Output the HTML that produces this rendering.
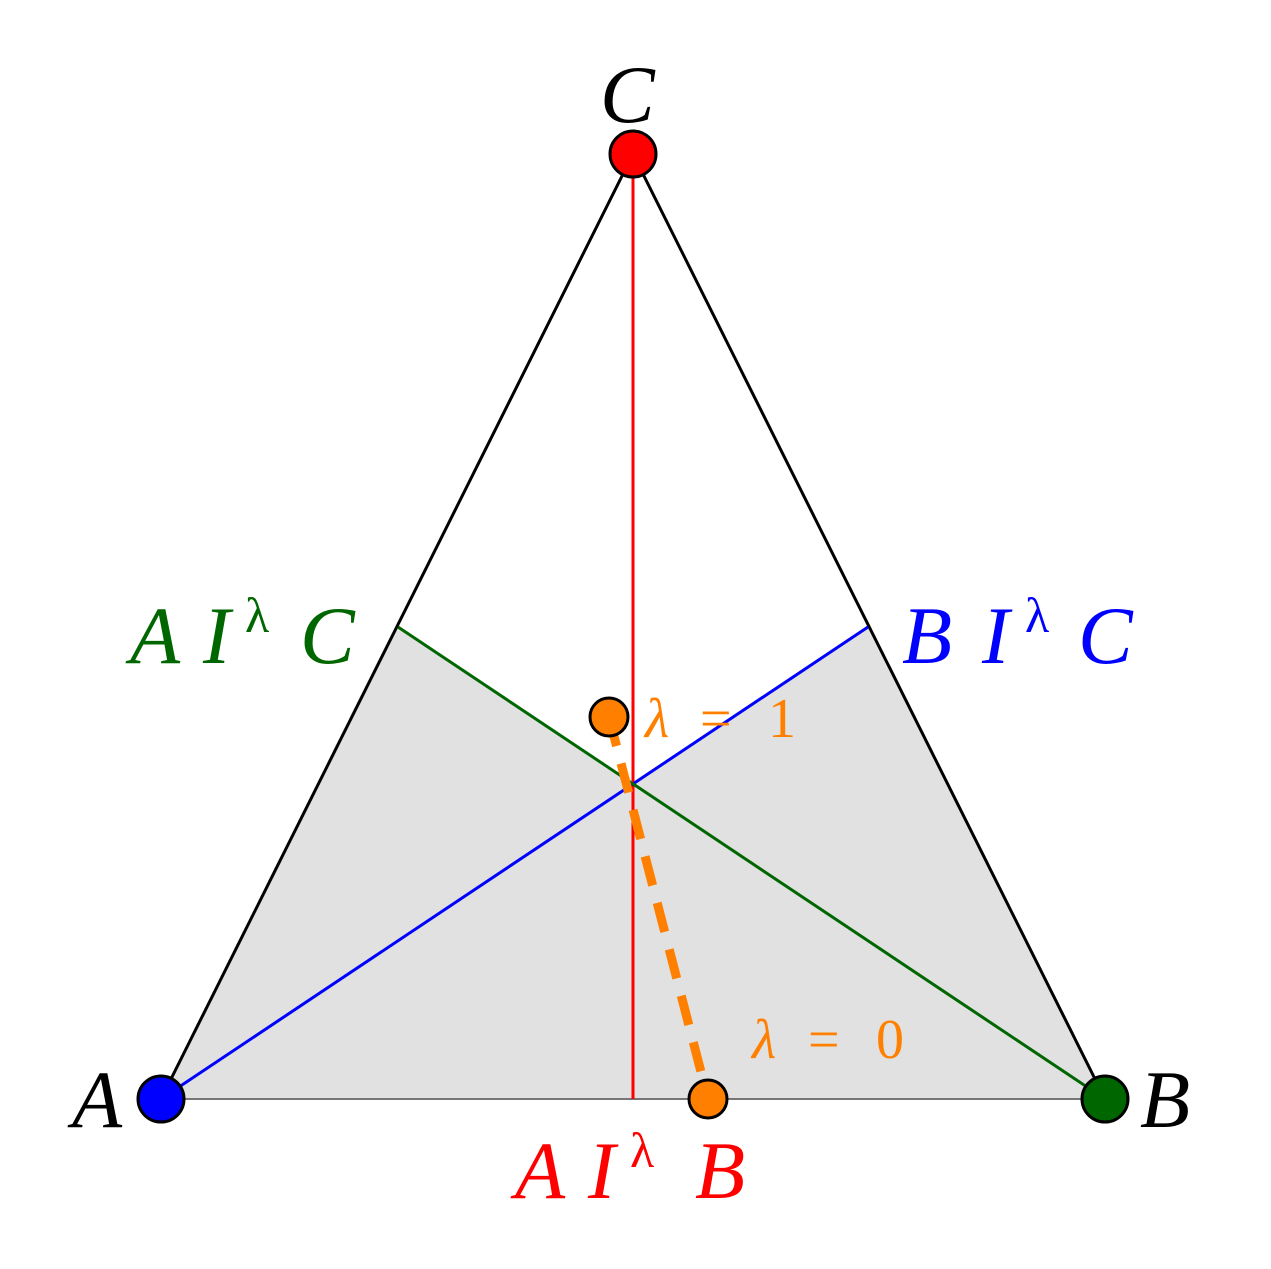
<!DOCTYPE html>
<html><head><meta charset="utf-8"><style>body{margin:0;background:#fff}svg{display:block}</style></head>
<body>
<svg width="1271" height="1269" viewBox="0 0 1271 1269" xmlns="http://www.w3.org/2000/svg">
<polygon points="161,1099 398,627 630,784 868,627 1105,1099" fill="#e1e1e1"/>
<line x1="161" y1="1099" x2="1105" y2="1099" stroke="#777" stroke-width="2"/>
<line x1="161" y1="1099" x2="633" y2="154" stroke="#000" stroke-width="3"/>
<line x1="1105" y1="1099" x2="633" y2="154" stroke="#000" stroke-width="3"/>
<line x1="633" y1="154" x2="633" y2="1099" stroke="#f00" stroke-width="3"/>
<line x1="161" y1="1099" x2="868" y2="627" stroke="#00f" stroke-width="3"/>
<line x1="1105" y1="1099" x2="398" y2="627" stroke="#060" stroke-width="3"/>
<line x1="609" y1="717" x2="708" y2="1099" stroke="#ff8000" stroke-width="9" stroke-dasharray="30,18"/>
<circle cx="609" cy="717" r="19" fill="#ff8000" stroke="#000" stroke-width="3"/>
<circle cx="708" cy="1099" r="19" fill="#ff8000" stroke="#000" stroke-width="3"/>
<circle cx="633" cy="154" r="23" fill="#f00" stroke="#000" stroke-width="3"/>
<circle cx="161" cy="1099" r="23" fill="#00f" stroke="#000" stroke-width="3"/>
<circle cx="1105" cy="1099" r="23" fill="#060" stroke="#000" stroke-width="3"/>
<g font-family="Liberation Serif, serif" font-style="italic" font-size="82">
<text x="600" y="122">C</text>
<text x="72" y="1127">A</text>
<text x="1140" y="1127">B</text>
<g fill="#060"><text x="130" y="663">A</text><text x="203" y="663">I</text><text x="245" y="632" font-size="50" font-style="normal">λ</text><text x="300" y="663">C</text></g>
<g fill="#00f"><text x="902" y="663">B</text><text x="982" y="663">I</text><text x="1025" y="632" font-size="50" font-style="normal">λ</text><text x="1078" y="663">C</text></g>
<g fill="#f00"><text x="515" y="1198">A</text><text x="588" y="1198">I</text><text x="630" y="1167" font-size="50" font-style="normal">λ</text><text x="695" y="1198">B</text></g>
</g>
<g font-family="Liberation Serif, serif" font-size="56" fill="#ff8000">
<text x="645" y="737" font-style="italic">λ</text><text x="700" y="737">=</text><text x="768" y="737">1</text>
<text x="752" y="1058" font-style="italic">λ</text><text x="808" y="1058">=</text><text x="876" y="1058">0</text>
</g>
</svg>
</body></html>
